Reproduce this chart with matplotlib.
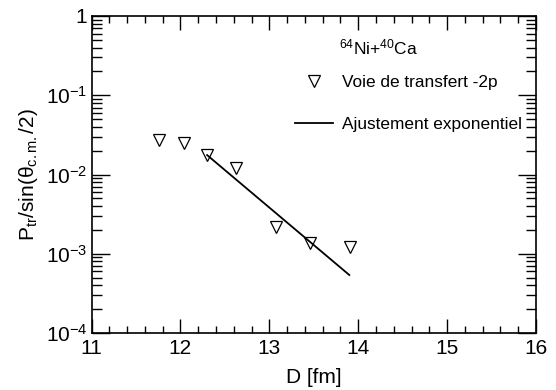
import numpy as np
import matplotlib
matplotlib.use('Agg')
import matplotlib.pyplot as plt
from matplotlib.ticker import LogLocator, MultipleLocator, NullFormatter, FixedLocator

plt.rcParams['font.family'] = ['Liberation Sans', 'DejaVu Sans']
plt.rcParams['mathtext.fontset'] = 'custom'
plt.rcParams['mathtext.rm'] = 'Liberation Sans'
plt.rcParams['mathtext.it'] = 'Liberation Sans:italic'
plt.rcParams['mathtext.sf'] = 'Liberation Sans'

# data
d_points = [11.76, 12.04, 12.30, 12.63, 13.08, 13.46, 13.91]
p_points = [0.0272, 0.0248, 0.0176, 0.0120, 0.00219, 0.00138, 0.00123]

# exponential fit, end points
d_fit = [12.30, 13.90]
p_fit = [0.0176, 0.00054]

y_ticks = [1e-4, 1e-3, 1e-2, 1e-1, 1]
y_ticklabels = ['$10^{-4}$', '$10^{-3}$', '$10^{-2}$', '$10^{-1}$', '1']

fig = plt.figure(figsize=(5.56, 3.90), dpi=100)
ax = fig.add_axes([0.1646, 0.146, 0.7994, 0.813])

ax.plot(d_points, p_points, linestyle='none', marker='v', markersize=8,
        markerfacecolor='white', markeredgecolor='black', markeredgewidth=0.9,
        label='Voie de transfert -2p')
ax.plot(d_fit, p_fit, color='black', linewidth=1.3, label='Ajustement exponentiel')

ax.set_yscale('log')
ax.set_xlim(11, 16)
ax.set_ylim(1e-4, 1)

ax.xaxis.set_major_locator(MultipleLocator(1))
ax.xaxis.set_minor_locator(MultipleLocator(0.2))
ax.yaxis.set_major_locator(FixedLocator(y_ticks))
ax.yaxis.set_minor_locator(LogLocator(base=10, subs=np.arange(2, 10), numticks=20))
ax.yaxis.set_minor_formatter(NullFormatter())
ax.set_yticklabels(y_ticklabels)

ax.tick_params(which='both', direction='in', top=True, right=True,
               labelsize=15, width=1)
ax.tick_params(which='major', axis='x', length=10, pad=4)
ax.tick_params(which='minor', axis='x', length=5)
ax.tick_params(which='major', axis='y', length=13, pad=3)
ax.tick_params(which='minor', axis='y', length=7)
for s in ax.spines.values():
    s.set_linewidth(1.2)

ax.set_xlabel('D [fm]', fontsize=15)
ax.xaxis.set_label_coords(0.5, -0.11)
ax.set_ylabel(r'P$_{\mathrm{tr}}$/sin($\mathrm{θ_{c.m.}}$/2)', fontsize=15)
ax.yaxis.set_label_coords(-0.116, 0.5)

# legend header and entries
ax.text(0.645, 0.902, r'$^{64}$Ni+$^{40}$Ca', fontsize=12.5,
        ha='center', va='center', transform=ax.transAxes)
leg = ax.legend(loc='upper left', bbox_to_anchor=(0.458, 0.813), frameon=False,
                fontsize=12.4, handlelength=2.2, handletextpad=0.52,
                labelspacing=1.55, borderpad=0, borderaxespad=0)

fig.savefig('out.png', dpi=100)
